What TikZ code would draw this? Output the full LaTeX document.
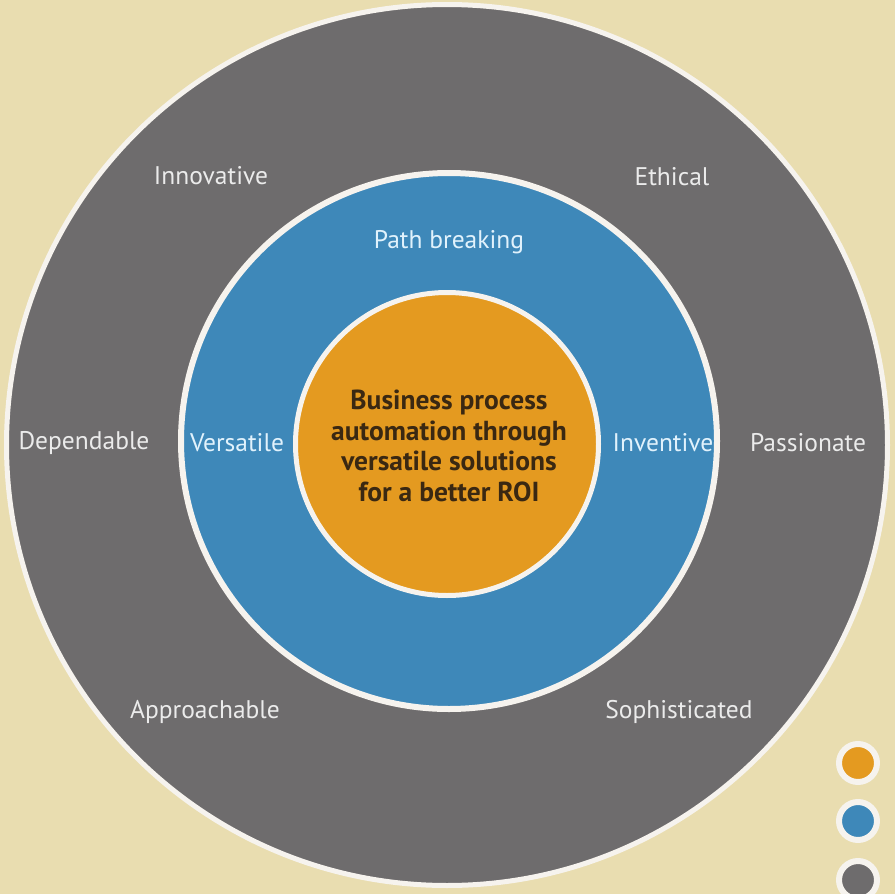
\documentclass[tikz,border=0pt]{standalone}
\usepackage{fontspec}
\setmainfont{PT Sans}
\definecolor{bg}{RGB}{233,221,176}
\definecolor{ringgray}{RGB}{110,108,109}
\definecolor{ringblue}{RGB}{62,136,185}
\definecolor{ringorange}{RGB}{228,154,32}
\definecolor{edgewhite}{RGB}{246,243,238}
\definecolor{graytext}{RGB}{235,235,235}
\definecolor{bluetext}{RGB}{225,242,252}
\definecolor{centertext}{RGB}{58,40,18}
\begin{document}
\begin{tikzpicture}[x=1pt,y=-1pt,
  disc/.style={circle, draw=edgewhite, inner sep=0pt},
  graylbl/.style={text=graytext, font=\fontsize{25.5}{30}\selectfont, inner sep=0pt},
  bluelbl/.style={text=bluetext, font=\fontsize{25.5}{30}\selectfont, inner sep=0pt},
  centerlbl/.style={text=centertext, font=\bfseries\fontsize{27.5}{30.5}\selectfont, align=center, inner sep=0pt}]
\fill[bg] (0,0) rectangle (895,894);
\useasboundingbox (0,0) rectangle (895,894);
\node[disc, fill=ringgray, line width=5pt, minimum size=881pt] (outer) at (447,445) {};
\node[disc, fill=ringblue, line width=6pt, minimum size=536pt] (middle) at (449,441) {};
\node[disc, fill=ringorange, line width=5pt, minimum size=303pt] (inner) at (447,444) {};
\node[centerlbl] (core) at (449,446) {Business process\\automation through\\versatile solutions\\for a better ROI};
\node[graylbl] (innovative) at (211,176) {Innovative};
\node[graylbl] (ethical) at (672,177) {Ethical};
\node[graylbl] (dependable) at (84,443) {Dependable};
\node[graylbl] (passionate) at (808,443) {Passionate};
\node[graylbl] (approachable) at (205,712) {Approachable};
\node[graylbl] (sophisticated) at (679,712) {Sophisticated};
\node[bluelbl] (pathbreaking) at (449,242) {Path breaking};
\node[bluelbl] (versatile) at (237,443) {Versatile};
\node[bluelbl] (inventive) at (663,443) {Inventive};
\node[disc, fill=ringorange, line width=6pt, minimum size=38pt] (legendorange) at (858,763) {};
\node[disc, fill=ringblue, line width=6pt, minimum size=38pt] (legendblue) at (858,821) {};
\node[disc, fill=ringgray, line width=6pt, minimum size=38pt] (legendgray) at (858,880) {};
\end{tikzpicture}
\end{document}
